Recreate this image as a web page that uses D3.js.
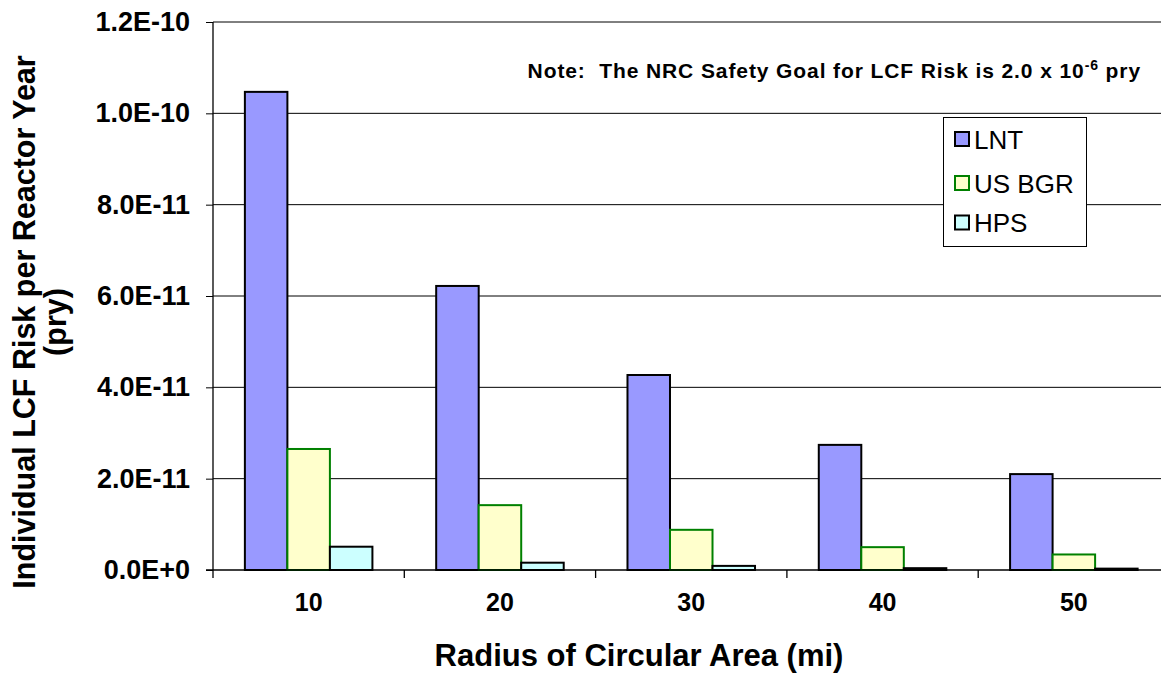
<!DOCTYPE html>
<html>
<head>
<meta charset="utf-8">
<script src="https://cdn.jsdelivr.net/npm/d3@7"></script>
<style>
  html, body { margin: 0; padding: 0; background: #fff; }
  svg { display: block; }
  text { font-family: Arial, "Liberation Sans", sans-serif; }
</style>
</head>
<body>
<svg id="chart" width="1161" height="673"></svg>
<script>
// ---- Data ----
const categories = ["10", "20", "30", "40", "50"];
const seriesNames = ["LNT", "US BGR", "HPS"];
const lntValues = [1.047e-10, 6.22e-11, 4.27e-11, 2.74e-11, 2.10e-11];
const bgrValues = [2.65e-11, 1.42e-11, 8.8e-12, 5.0e-12, 3.4e-12];
const hpsValues = [5.1e-12, 1.6e-12, 0.9e-12, 0.4e-12, 0.3e-12];
const yTickValues = [0, 2e-11, 4e-11, 6e-11, 8e-11, 1.0e-10, 1.2e-10];
const yTickLabels = ["0.0E+0", "2.0E-11", "4.0E-11", "6.0E-11", "8.0E-11", "1.0E-10", "1.2E-10"];

const seriesValues = [lntValues, bgrValues, hpsValues];
const fills = ["#9999FF", "#FFFFCC", "#CCFFFF"];
const strokes = ["#000000", "#008000", "#000000"];

const svg = d3.select("#chart");
const pLeft = 213, pRight = 1169.5, pTop = 22, pBottom = 570;

const y = d3.scaleLinear().domain([0, 1.2e-10]).range([pBottom, pTop]);
const x = d3.scaleBand().domain(categories).range([pLeft, pRight])
  .paddingInner(1/3).paddingOuter(1/6);
const x1 = d3.scaleBand().domain(seriesNames).range([0, x.bandwidth()]).padding(0);
const step = x.step();

// gridlines
svg.append("g").selectAll("line").data(yTickValues.slice(1)).join("line")
  .attr("x1", pLeft).attr("x2", pRight)
  .attr("y1", d => y(d)).attr("y2", d => y(d))
  .attr("stroke", "#000").attr("stroke-width", 1);

// y axis
const yAxis = d3.axisLeft(y).tickValues(yTickValues)
  .tickFormat((d, i) => yTickLabels[i]).tickSize(7).tickPadding(16);
const gy = svg.append("g").attr("transform", `translate(${pLeft},0)`).call(yAxis);
gy.select(".domain").attr("stroke", "#000").attr("stroke-width", 1.3).attr("d", `M0,${pBottom}V${pTop}`);
gy.selectAll(".tick line").attr("stroke", "#000");
gy.selectAll("text").attr("font-size", 27).attr("font-weight", "bold")
  .attr("font-family", "Arial, 'Liberation Sans', sans-serif").attr("fill", "#000");

// bars
const groups = svg.append("g").selectAll("g").data(categories).join("g")
  .attr("transform", d => `translate(${x(d)},0)`);
groups.selectAll("rect").data((c, ci) => seriesNames.map((s, si) => ({ s, si, v: seriesValues[si][ci] })))
  .join("rect")
  .attr("x", d => x1(d.s))
  .attr("width", x1.bandwidth())
  .attr("y", d => y(d.v))
  .attr("height", d => pBottom - y(d.v))
  .attr("fill", d => fills[d.si])
  .attr("stroke", d => strokes[d.si])
  .attr("stroke-width", 2);

// x axis baseline and ticks (category boundaries)
const xAxis = d3.axisBottom(x).tickSize(0).tickPadding(23);
const gx = svg.append("g").attr("transform", `translate(0,${pBottom})`).call(xAxis);
gx.select(".domain").attr("stroke", "#000").attr("stroke-width", 1.3).attr("d", `M${pLeft - 7},0H${pRight}`);
gx.selectAll("text").attr("font-size", 25).attr("font-weight", "bold")
  .attr("font-family", "Arial, 'Liberation Sans', sans-serif").attr("fill", "#000");
const boundaries = categories.map(c => x(c) - step / 6).concat([pRight]);
svg.append("g").selectAll("line").data(boundaries).join("line")
  .attr("x1", d => d).attr("x2", d => d)
  .attr("y1", pBottom).attr("y2", pBottom + 8)
  .attr("stroke", "#000").attr("stroke-width", 1.3);

// axis titles
svg.append("text").attr("x", 639).attr("y", 666).attr("text-anchor", "middle")
  .attr("font-size", 31).attr("font-weight", "bold").text("Radius of Circular Area (mi)");
const yt = svg.append("text").attr("transform", "translate(35,322) rotate(-90)")
  .attr("text-anchor", "middle").attr("font-size", 30.5).attr("font-weight", "bold");
yt.append("tspan").attr("x", 0).attr("y", 0).text("Individual LCF Risk per Reactor Year");
yt.append("tspan").attr("x", 0).attr("y", 31).text("(pry)");

// note
const note = svg.append("text").attr("x", 1141).attr("y", 78).attr("text-anchor", "end")
  .attr("font-family", "Lato, 'Open Sans', sans-serif").attr("font-size", 21).attr("font-weight", "bold")
  .attr("letter-spacing", 0.9).attr("xml:space", "preserve");
note.append("tspan").text("Note:  The NRC Safety Goal for LCF Risk is 2.0 x 10");
note.append("tspan").attr("dy", -8).attr("font-size", 14).text("-6");
note.append("tspan").attr("dy", 8).text(" pry");

// legend
const lg = svg.append("g");
lg.append("rect").attr("x", 943.5).attr("y", 117.5).attr("width", 143).attr("height", 129)
  .attr("fill", "#fff").attr("stroke", "#000").attr("stroke-width", 1);
const rowsY = [139, 183, 222.5];
seriesNames.forEach((s, i) => {
  lg.append("rect").attr("x", 955).attr("y", rowsY[i] - 7).attr("width", 14).attr("height", 14)
    .attr("fill", fills[i]).attr("stroke", strokes[i]).attr("stroke-width", 2);
  lg.append("text").attr("x", 974).attr("y", rowsY[i] + 9.5).attr("font-size", 26).text(s);
});
</script>
</body>
</html>
